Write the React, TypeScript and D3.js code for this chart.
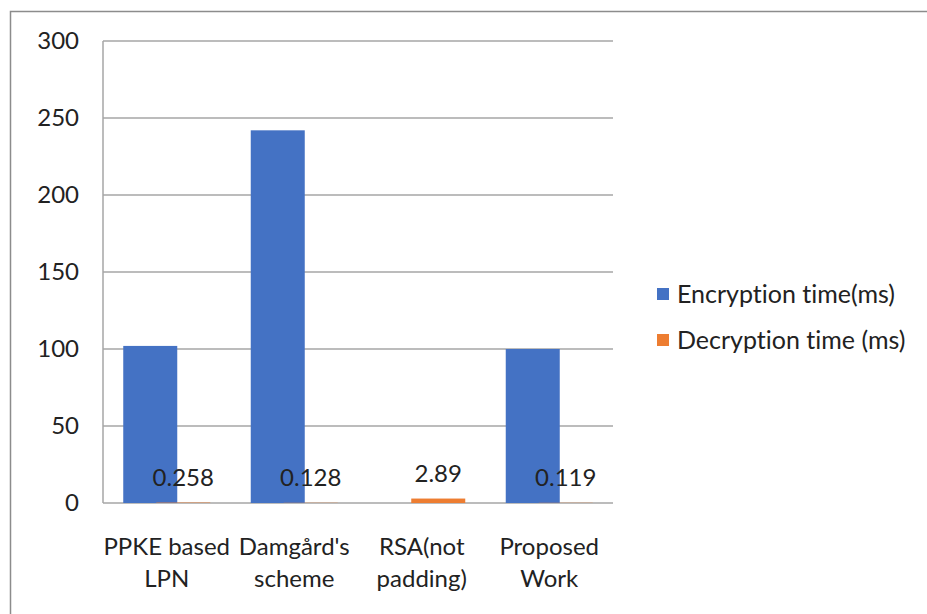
import React, { useEffect, useRef } from 'react';
import * as d3 from 'd3';

const categories = [
  ['PPKE based', 'LPN'],
  ["Damgård's", 'scheme'],
  ['RSA(not', 'padding)'],
  ['Proposed', 'Work'],
];
const encryption = [102, 242, 0, 100];
const decryption = [0.258, 0.128, 2.89, 0.119];
const decryptionLabels = ['0.258', '0.128', '2.89', '0.119'];
const yTicks = [0, 50, 100, 150, 200, 250, 300];
const seriesNames = ['Encryption time(ms)', 'Decryption time (ms)'];
const colors = ['#4472C4', '#ED7D31'];

const W = 927;
const H = 614;
const margin = { top: 41, right: 314, bottom: 111, left: 103 };
const FONT = 'Lato, "Open Sans", sans-serif';
const FS = 24;

export default function App() {
  const ref = useRef<SVGSVGElement>(null);

  useEffect(() => {
    const svg = d3.select(ref.current);
    svg.selectAll('*').remove();
    const width = W - margin.left - margin.right;
    const height = H - margin.top - margin.bottom;

    // outer chart frame (runs off the right and bottom edge)
    svg.append('rect')
      .attr('x', 10.5).attr('y', 11.5)
      .attr('width', W + 20).attr('height', H + 20)
      .attr('fill', 'white').attr('stroke', '#8c8c8c').attr('stroke-width', 1.5);

    const g = svg.append('g').attr('transform', 'translate(' + margin.left + ',' + margin.top + ')');

    const x = d3.scaleBand<number>()
      .domain(d3.range(categories.length))
      .range([0, width]);
    const y = d3.scaleLinear().domain([0, 300]).range([height, 0]);

    // gridlines
    g.selectAll('.grid')
      .data(yTicks)
      .enter().append('line')
      .attr('x1', 0).attr('x2', width)
      .attr('y1', d => y(d)).attr('y2', d => y(d))
      .attr('stroke', '#a6a6a6').attr('stroke-width', 1.5);

    g.append('line')
      .attr('x1', 0).attr('x2', 0).attr('y1', 0).attr('y2', height)
      .attr('stroke', '#a6a6a6').attr('stroke-width', 1.5);

    g.selectAll('.ytick')
      .data(yTicks)
      .enter().append('text')
      .attr('x', -24)
      .attr('y', d => y(d))
      .attr('dy', '0.35em')
      .attr('text-anchor', 'end')
      .attr('font-family', FONT)
      .attr('font-size', FS)
      .attr('fill', '#222')
      .text(d => d);

    const barW = 54;
    const offset = 16.5;
    const cx = (i: number) => (x(i) as number) + x.bandwidth() / 2;

    g.selectAll('.enc')
      .data(encryption)
      .enter().append('rect')
      .attr('x', (d, i) => cx(i) - offset - barW / 2)
      .attr('width', barW)
      .attr('y', d => y(d))
      .attr('height', d => height - y(d))
      .attr('fill', colors[0]);

    g.selectAll('.dec')
      .data(decryption)
      .enter().append('rect')
      .attr('x', (d, i) => cx(i) + offset - barW / 2)
      .attr('width', barW)
      .attr('y', d => y(d))
      .attr('height', d => height - y(d))
      .attr('fill', colors[1]);

    g.selectAll('.declabel')
      .data(decryptionLabels)
      .enter().append('text')
      .attr('x', (d, i) => cx(i) + offset)
      .attr('y', (d, i) => y(decryption[i]) - 17)
      .attr('text-anchor', 'middle')
      .attr('font-family', FONT)
      .attr('font-size', FS)
      .attr('fill', '#222')
      .text(d => d);

    const cat = g.selectAll('.cat')
      .data(categories)
      .enter().append('text')
      .attr('text-anchor', 'middle')
      .attr('font-family', FONT)
      .attr('font-size', FS)
      .attr('fill', '#222');
    cat.each(function(d, i) {
      const t = d3.select(this);
      d.forEach((line, j) => {
        t.append('tspan')
          .attr('x', cx(i))
          .attr('y', height + 52 + j * 32)
          .text(line);
      });
    });

    // legend
    const leg = svg.append('g').attr('transform', 'translate(657,0)');
    seriesNames.forEach((name, i) => {
      const yy = 294 + i * 46;
      leg.append('rect')
        .attr('x', 0).attr('y', yy - 6)
        .attr('width', 12).attr('height', 12)
        .attr('fill', colors[i]);
      leg.append('text')
        .attr('x', 20).attr('y', yy)
        .attr('dy', '0.35em')
        .attr('font-family', FONT)
        .attr('font-size', 25)
        .attr('fill', '#222')
        .text(name);
    });
  }, []);

  return (
    <svg ref={ref} width={W} height={H}
      style={{ position: 'absolute', left: 0, top: 0, fontVariantLigatures: 'none' }} />
  );
}
